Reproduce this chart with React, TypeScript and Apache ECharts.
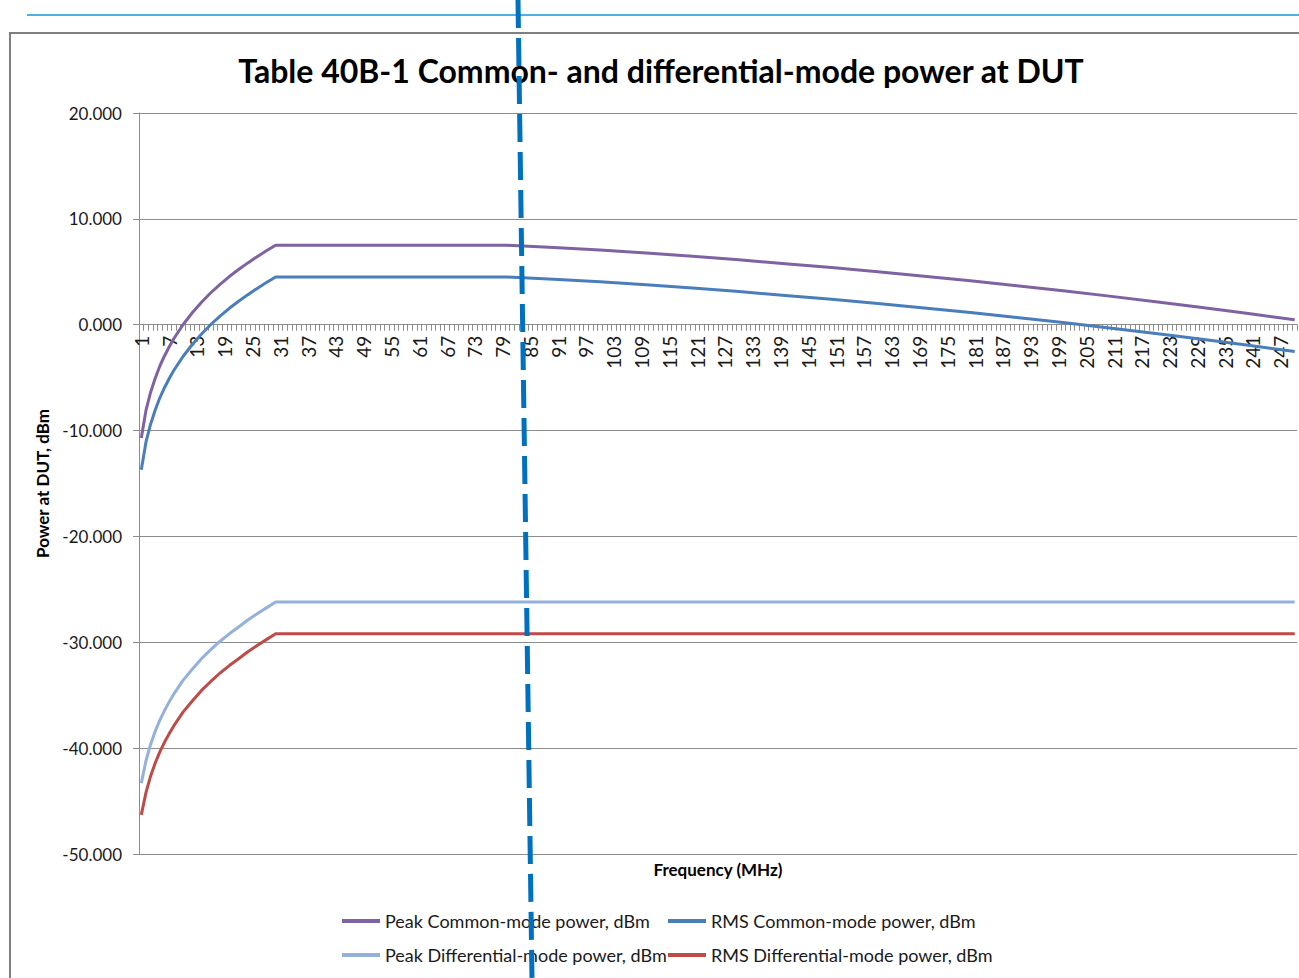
import React, { useEffect, useRef } from "react";
import * as echarts from "echarts";

// Category labels: frequency in MHz, 1..250
const categories: string[] = Array.from({ length: 250 }, (_, i) => String(i + 1));

const riseFreqs = [1, 2, 3, 4, 5, 6, 7, 8, 10, 12, 14, 16, 18, 20, 22, 24, 26, 28, 30];
const declineFreqs = [80, 90, 100, 110, 120, 130, 140, 150, 160, 170, 180, 190, 200, 210, 220, 230, 240, 250];
const flatEndFreq = 250;

const peakCMRise = [-10.7, -8.1, -6.4, -5.05, -3.9, -2.95, -2.1, -1.33, 0.0, 1.13, 2.12, 3.02, 3.81, 4.55, 5.21, 5.84, 6.43, 6.98, 7.5];
const peakCMDecline = [7.5, 7.3, 7.05, 6.77, 6.46, 6.13, 5.77, 5.4, 5.0, 4.58, 4.15, 3.69, 3.2, 2.7, 2.18, 1.63, 1.06, 0.47];

const rmsCMRise = [-13.7, -11.1, -9.4, -8.05, -6.9, -5.95, -5.1, -4.33, -3.0, -1.87, -0.88, 0.02, 0.81, 1.55, 2.21, 2.84, 3.43, 3.98, 4.5];
const rmsCMDecline = [4.5, 4.3, 4.05, 3.77, 3.46, 3.13, 2.77, 2.4, 2.0, 1.58, 1.15, 0.69, 0.2, -0.3, -0.82, -1.37, -1.94, -2.53];

const peakDMRise = [-43.3, -41.2, -39.65, -38.4, -37.35, -36.45, -35.65, -34.9, -33.6, -32.55, -31.55, -30.7, -29.9, -29.2, -28.55, -27.9, -27.3, -26.75, -26.2];
const peakDMFlat = -26.2;

const rmsDMRise = [-46.3, -44.2, -42.65, -41.4, -40.35, -39.45, -38.65, -37.9, -36.6, -35.55, -34.55, -33.7, -32.9, -32.2, -31.55, -30.9, -30.3, -29.75, -29.2];
const rmsDMFlat = -29.2;

const yTicks = { min: -50, max: 20, interval: 10 };

const seriesNames = [
  "Peak Common-mode power, dBm",
  "RMS Common-mode power, dBm",
  "Peak Differential-mode power, dBm",
  "RMS Differential-mode power, dBm",
];
const seriesColors = ["#7f62a1", "#4a7ebb", "#93b1da", "#be4b48"];

const pairs = (freqs: number[], vals: number[]) => freqs.map((f, i) => [f - 1, vals[i]]);

const FONT = "Lato";
const GRID_TOP = 113;
const GRID_BOTTOM = 124;
const CHART_H = 978;

export default function App() {
  const ref = useRef<HTMLDivElement>(null);

  useEffect(() => {
    if (!ref.current) return;
    const chart = echarts.init(ref.current, null, { renderer: "svg" });

    const data = [
      [...pairs(riseFreqs, peakCMRise), ...pairs(declineFreqs, peakCMDecline)],
      [...pairs(riseFreqs, rmsCMRise), ...pairs(declineFreqs, rmsCMDecline)],
      [...pairs(riseFreqs, peakDMRise), [flatEndFreq - 1, peakDMFlat]],
      [...pairs(riseFreqs, rmsDMRise), [flatEndFreq - 1, rmsDMFlat]],
    ];

    // place the category axis on the y = 0 line
    const plotH = CHART_H - GRID_TOP - GRID_BOTTOM;
    const zeroFromBottom = ((0 - yTicks.min) / (yTicks.max - yTicks.min)) * plotH;

    const legendCommon = {
      orient: "vertical" as const,
      icon: "rect",
      padding: 0,
      itemWidth: 38,
      itemHeight: 4,
      itemGap: 16,
      textStyle: { fontFamily: FONT, fontSize: 18, color: "#1a1a1a" },
    };

    chart.setOption({
      animation: false,
      backgroundColor: "#ffffff",
      grid: { left: 139, right: 2, top: GRID_TOP, bottom: GRID_BOTTOM, containLabel: false },
      legend: [
        { ...legendCommon, left: 342, top: 912, data: [seriesNames[0], seriesNames[2]] },
        { ...legendCommon, left: 668, top: 912, data: [seriesNames[1], seriesNames[3]] },
      ],
      xAxis: {
        type: "category",
        data: categories,
        boundaryGap: true,
        offset: -zeroFromBottom,
        axisLine: { onZero: false, lineStyle: { color: "#8c8c8c", width: 1 } },
        axisTick: { show: true, interval: 0, length: 6, lineStyle: { color: "#8c8c8c" } },
        axisLabel: { interval: 5, rotate: 90, margin: 11, fontFamily: FONT, fontSize: 19, color: "#1a1a1a" },
        splitLine: { show: false },
      },
      yAxis: {
        type: "value",
        min: yTicks.min,
        max: yTicks.max,
        interval: yTicks.interval,
        name: "Power at DUT, dBm",
        nameLocation: "middle",
        nameGap: 88,
        nameTextStyle: { fontFamily: FONT, fontSize: 17, fontWeight: "bold", color: "#000" },
        axisLine: { show: true, lineStyle: { color: "#8c8c8c", width: 1 } },
        axisTick: { show: true, length: 6, lineStyle: { color: "#8c8c8c" } },
        axisLabel: {
          formatter: (v: number) => v.toFixed(3),
          margin: 17,
          fontFamily: FONT,
          fontSize: 17,
          color: "#1a1a1a",
        },
        splitLine: { show: true, lineStyle: { color: "#8c8c8c", width: 1 } },
      },
      series: seriesNames.map((name, i) => ({
        name,
        type: "line",
        data: data[i],
        symbol: "none",
        showSymbol: false,
        smooth: false,
        color: seriesColors[i],
        lineStyle: { width: 3, color: seriesColors[i] },
        itemStyle: { color: seriesColors[i] },
      })),
      graphic: [
        {
          type: "line",
          shape: { x1: 27, y1: 15, x2: 1299, y2: 15 },
          style: { stroke: "#4ab3e3", lineWidth: 2 },
          z: 50,
        },
        {
          type: "polyline",
          shape: { points: [[10, 980], [10, 33], [1300, 33]] },
          style: { stroke: "#7f7f7f", lineWidth: 2, fill: "none" },
          z: 50,
        },
        {
          type: "text",
          x: 661,
          y: 70,
          style: {
            text: "Table 40B-1 Common- and differential-mode power at DUT",
            fontFamily: FONT,
            fontSize: 32,
            fontWeight: "bold",
            fill: "#000",
            textAlign: "center",
            textVerticalAlign: "middle",
          },
          z: 50,
        },
        {
          type: "text",
          x: 718,
          y: 869,
          style: {
            text: "Frequency (MHz)",
            fontFamily: FONT,
            fontSize: 17,
            fontWeight: "bold",
            fill: "#000",
            textAlign: "center",
            textVerticalAlign: "middle",
          },
          z: 50,
        },
        {
          type: "line",
          shape: { x1: 518, y1: 0, x2: 532, y2: 978 },
          style: { stroke: "#0070c0", lineWidth: 5, lineDash: [28, 10] },
          z: 100,
        },
      ],
    });

    return () => chart.dispose();
  }, []);

  return (
    <div
      ref={ref}
      style={{ position: "absolute", left: 0, top: 0, width: 1299, height: 978, background: "#fff" }}
    />
  );
}
